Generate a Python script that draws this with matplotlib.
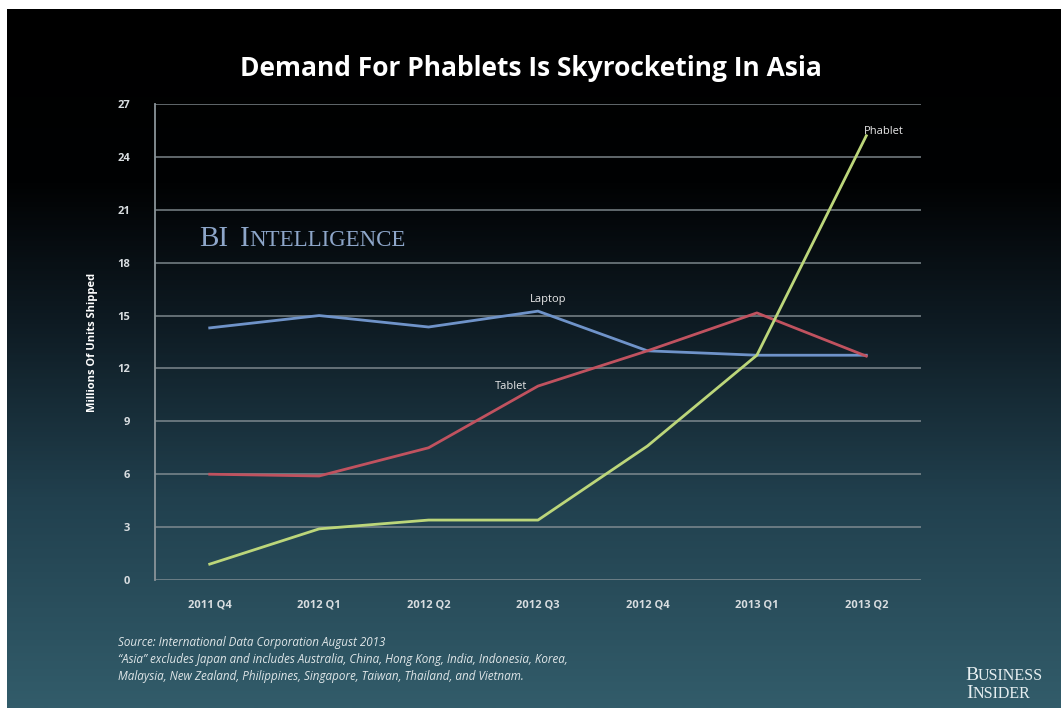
import numpy as np
import matplotlib
matplotlib.use("Agg")
import matplotlib.pyplot as plt
from matplotlib.colors import LinearSegmentedColormap

quarters = ["2011 Q4", "2012 Q1", "2012 Q2", "2012 Q3", "2012 Q4", "2013 Q1", "2013 Q2"]
laptop = [14.3, 15.0, 14.35, 15.25, 13.0, 12.75, 12.75]
tablet = [6.0, 5.9, 7.5, 11.0, 13.0, 15.15, 12.7]
phablet = [0.9, 2.9, 3.4, 3.4, 7.6, 12.75, 25.2]
y_ticks = [0, 3, 6, 9, 12, 15, 18, 21, 24, 27]

W, H = 1061, 708
fig = plt.figure(figsize=(W / 100, H / 100), dpi=100, facecolor="white")
renderer = fig.canvas.get_renderer()

# dark-to-teal vertical gradient backdrop
bg = fig.add_axes([7 / W, 0, 1 - 7 / W, 1 - 9 / H])
bg.set_axis_off()
cmap = LinearSegmentedColormap.from_list(
    "slide",
    [(0.0, "#000000"), (0.25, "#010203"), (0.45, "#0e1b23"),
     (0.7, "#21404e"), (1.0, "#325c6a")])
grad = np.linspace(0, 1, 400).reshape(-1, 1)
bg.imshow(grad, aspect="auto", cmap=cmap, extent=[0, 1, 0, 1], origin="upper")
bg.set_xlim(0, 1)
bg.set_ylim(0, 1)

ax = fig.add_axes([155 / W, 1 - 580 / H, (921 - 155) / W, (580 - 104) / H])
ax.set_facecolor("none")
x = np.arange(len(quarters))

grid_col = "#8a9499"
for yv in y_ticks:
    ax.axhline(yv, color=grid_col, lw=1.3, alpha=0.75, zorder=1)

ax.plot(x, laptop, color="#6f93c9", lw=2.0, zorder=3, solid_joinstyle="round")
ax.plot(x, tablet, color="#c0525f", lw=2.0, zorder=3, solid_joinstyle="round")
ax.plot(x, phablet, color="#bcd67a", lw=2.0, zorder=4, solid_joinstyle="round")

ax.set_xlim(-0.5, 6.5)
ax.set_ylim(0, 27)
ax.set_xticks(x)
ax.set_xticklabels(quarters)
ax.set_yticks(y_ticks)
ax.set_yticklabels([str(v) for v in y_ticks])
for s in ["top", "right", "bottom"]:
    ax.spines[s].set_visible(False)
ax.spines["left"].set_color(grid_col)
ax.spines["left"].set_linewidth(1.3)
ax.tick_params(axis="x", colors="#d8dde0", labelsize=8, length=0, pad=14)
ax.tick_params(axis="y", colors="#d8dde0", labelsize=8, length=0, pad=18)
for lab in ax.get_xticklabels() + ax.get_yticklabels():
    lab.set_fontfamily("Open Sans")
    lab.set_fontweight("bold")
    lab.set_color("#d8dde0")

ax.set_ylabel("Millions Of Units Shipped", color="white", fontsize=8,
              fontweight="bold", family="Open Sans", labelpad=14)

# series labels
ax.text(3.09, 15.9, "Laptop", color="#e8e8e8", fontsize=8,
        family="Open Sans", ha="center", va="center")
ax.text(2.75, 11.0, "Tablet", color="#e8e8e8", fontsize=8,
        family="Open Sans", ha="center", va="center")
ax.text(6.16, 25.45, "Phablet", color="#e8e8e8", fontsize=8,
        family="Open Sans", ha="center", va="center")

fig.text(531 / W, 1 - 68 / H, "Demand For Phablets Is Skyrocketing In Asia",
         color="white", fontsize=19, fontweight="bold", family="Open Sans",
         ha="center", va="center")


def small_caps(x_px, y_px, parts, color, family, big, small):
    """Draw a run of text pieces, alternating large and small capitals."""
    cur = x_px
    for txt, is_big in parts:
        t = fig.text(cur / W, 1 - y_px / H, txt, color=color, family=family,
                     fontsize=big if is_big else small, ha="left", va="baseline")
        bb = t.get_window_extent(renderer=renderer)
        cur += bb.width
    return cur


small_caps(199, 246, [("BI", True), ("  ", False), ("I", True),
                      ("NTELLIGENCE", False)],
           "#8da6c9", "Liberation Serif", 21, 16.5)

notes = ("Source: International Data Corporation August 2013\n"
         "\u201cAsia\u201d excludes Japan and includes Australia, China, Hong Kong, India, Indonesia, Korea,\n"
         "Malaysia, New Zealand, Philippines, Singapore, Taiwan, Thailand, and Vietnam.")
fig.text(118 / W, 1 - 636 / H, notes, color="#dfe6e8", fontsize=8.4,
         style="italic", family="Open Sans", ha="left", va="top",
         linespacing=1.4)

small_caps(965, 680, [("B", True), ("USINESS", False)],
           "#e6eef0", "Liberation Serif", 14, 11.5)
small_caps(966, 698, [("I", True), ("NSIDER", False)],
           "#e6eef0", "Liberation Serif", 14, 11.5)

fig.savefig("out.png", dpi=100, facecolor="white")
